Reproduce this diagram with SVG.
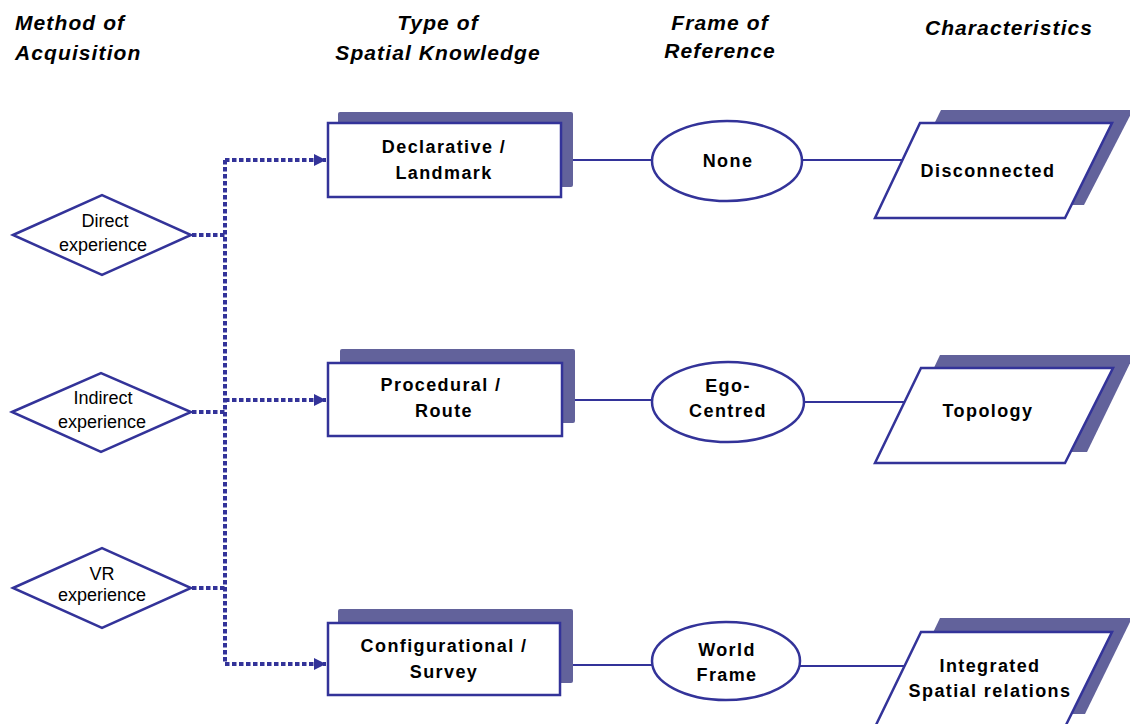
<svg xmlns="http://www.w3.org/2000/svg" width="1130" height="724" viewBox="0 0 1130 724">
  <defs>
    <marker id="arrow" viewBox="0 0 10 10" refX="10" refY="5" markerWidth="3" markerHeight="3" markerUnits="strokeWidth" orient="auto">
      <path d="M0,0 L10,5 L0,10 z" fill="#333399"/>
    </marker>
    <style>
      .hdr { font-family: "Liberation Sans", Arial, sans-serif; font-size: 21px; font-weight: bold; font-style: italic; fill: #000; letter-spacing: 1.1px; }
      .lbl { font-family: "Liberation Sans", Arial, sans-serif; font-size: 18px; font-weight: bold; fill: #000; letter-spacing: 1.4px; text-anchor: middle; }
      .dlbl { font-family: "Liberation Sans", Arial, sans-serif; font-size: 18px; fill: #000; text-anchor: middle; }
      .shadow { fill: #62629b; }
      .shape { fill: #fff; stroke: #333399; stroke-width: 2.5; }
      .link { fill: none; stroke: #333399; stroke-width: 2; }
      .dots { fill: none; stroke: #333399; stroke-width: 4; stroke-dasharray: 4.5 2.5; }
    </style>
  </defs>

  <rect width="1130" height="724" fill="#fff"/>

  <!-- column headings -->
  <g id="headers">
    <text class="hdr" x="15" y="30">Method of</text>
    <text class="hdr" x="15" y="60">Acquisition</text>
    <text class="hdr" x="438" y="30" text-anchor="middle">Type of</text>
    <text class="hdr" x="438" y="60" text-anchor="middle">Spatial Knowledge</text>
    <text class="hdr" x="720" y="30" text-anchor="middle">Frame of</text>
    <text class="hdr" x="720" y="58" text-anchor="middle">Reference</text>
    <text class="hdr" x="1009" y="35" text-anchor="middle">Characteristics</text>
  </g>

  <!-- connectors -->
  <g id="connectors">
    <!-- dotted acquisition bus -->
    <path class="dots" d="M192,235 H225"/>
    <path class="dots" d="M192,412 H225"/>
    <path class="dots" d="M192,588 H225"/>
    <path class="dots" d="M225,160 V664"/>
    <path class="dots" d="M225,160 H326" marker-end="url(#arrow)"/>
    <path class="dots" d="M225,400 H326" marker-end="url(#arrow)"/>
    <path class="dots" d="M225,664 H326" marker-end="url(#arrow)"/>
    <!-- solid row links -->
    <path class="link" d="M573,160 H652"/>
    <path class="link" d="M801,160 H903"/>
    <path class="link" d="M575,400 H652"/>
    <path class="link" d="M804,402 H905"/>
    <path class="link" d="M573,665 H652"/>
    <path class="link" d="M800,666 H905"/>
  </g>

  <!-- acquisition methods -->
  <g id="direct">
    <polygon class="shape" points="13,235 102,195 191,235 102,275"/>
    <text class="dlbl" x="105" y="227">Direct</text>
    <text class="dlbl" x="103" y="251">experience</text>
  </g>
  <g id="indirect">
    <polygon class="shape" points="12,412 101,373 191,412 101,452"/>
    <text class="dlbl" x="103" y="404">Indirect</text>
    <text class="dlbl" x="102" y="428">experience</text>
  </g>
  <g id="vr">
    <polygon class="shape" points="13,588 102,548 191,588 102,628"/>
    <text class="dlbl" x="102" y="580">VR</text>
    <text class="dlbl" x="102" y="601">experience</text>
  </g>

  <!-- spatial knowledge types -->
  <g id="declarative">
    <rect class="shadow" x="338" y="112" width="235" height="75" rx="2"/>
    <rect class="shape" x="328" y="123" width="233" height="74"/>
    <text class="lbl" x="444" y="153">Declarative /</text>
    <text class="lbl" x="444" y="179">Landmark</text>
  </g>
  <g id="procedural">
    <rect class="shadow" x="340" y="349" width="235" height="74" rx="2"/>
    <rect class="shape" x="328" y="363" width="234" height="73"/>
    <text class="lbl" x="441" y="391">Procedural /</text>
    <text class="lbl" x="444" y="417">Route</text>
  </g>
  <g id="configurational">
    <rect class="shadow" x="338" y="609" width="235" height="74" rx="2"/>
    <rect class="shape" x="328" y="623" width="232" height="72"/>
    <text class="lbl" x="444" y="652">Configurational /</text>
    <text class="lbl" x="444" y="678">Survey</text>
  </g>

  <!-- frames of reference -->
  <g id="none">
    <ellipse class="shape" cx="727" cy="161" rx="75" ry="40"/>
    <text class="lbl" x="728" y="167">None</text>
  </g>
  <g id="ego">
    <ellipse class="shape" cx="728" cy="402" rx="76" ry="40"/>
    <text class="lbl" x="728" y="392">Ego-</text>
    <text class="lbl" x="728" y="417">Centred</text>
  </g>
  <g id="world">
    <ellipse class="shape" cx="726" cy="661" rx="74" ry="39"/>
    <text class="lbl" x="727" y="656">World</text>
    <text class="lbl" x="727" y="681">Frame</text>
  </g>

  <!-- characteristics -->
  <g id="disconnected">
    <polygon class="shadow" points="941,110 1133,110 1084,205 894,205"/>
    <polygon class="shape" points="920,123 1112,123 1065,218 875,218"/>
    <text class="lbl" x="988" y="177">Disconnected</text>
  </g>
  <g id="topology">
    <polygon class="shadow" points="940,355 1134,355 1087,452 894,452"/>
    <polygon class="shape" points="921,368 1113,368 1065,463 875,463"/>
    <text class="lbl" x="988" y="417">Topology</text>
  </g>
  <g id="integrated">
    <polygon class="shadow" points="940,618 1132,618 1085,714 894,714"/>
    <polygon class="shape" points="921,632 1112,632 1065,727 875,727"/>
    <text class="lbl" x="990" y="672">Integrated</text>
    <text class="lbl" x="990" y="697">Spatial relations</text>
  </g>
</svg>
